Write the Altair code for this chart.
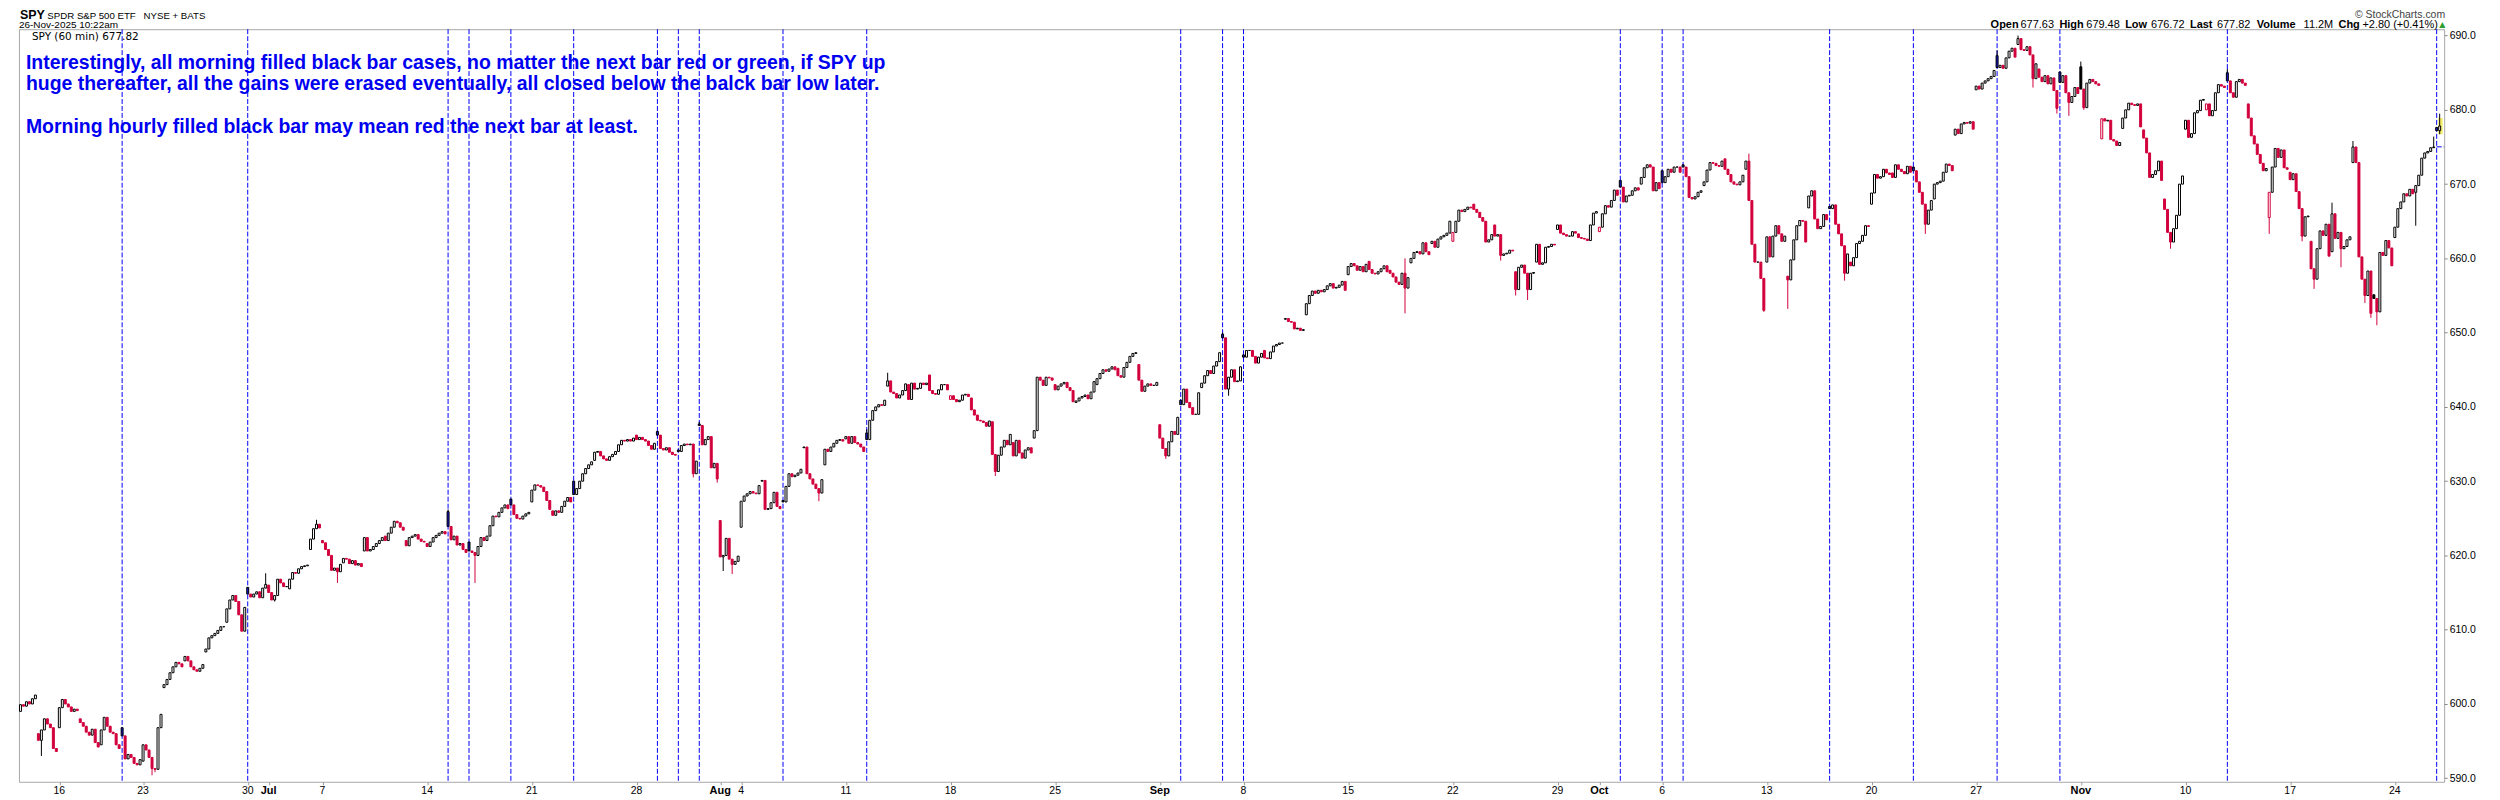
import altair as alt
import pandas as pd

# ---------------- data ----------------
DAYS = ["Jun 12", "Jun 13", "Jun 16", "Jun 17", "Jun 18", "Jun 20", "Jun 23", "Jun 24", "Jun 25", "Jun 26",
        "Jun 27", "Jun 30", "Jul 1", "Jul 2", "Jul 3", "Jul 7", "Jul 8", "Jul 9", "Jul 10", "Jul 11",
        "Jul 14", "Jul 15", "Jul 16", "Jul 17", "Jul 18", "Jul 21", "Jul 22", "Jul 23", "Jul 24", "Jul 25",
        "Jul 28", "Jul 29", "Jul 30", "Jul 31", "Aug 1", "Aug 4", "Aug 5", "Aug 6", "Aug 7", "Aug 8",
        "Aug 11", "Aug 12", "Aug 13", "Aug 14", "Aug 15", "Aug 18", "Aug 19", "Aug 20", "Aug 21", "Aug 22",
        "Aug 25", "Aug 26", "Aug 27", "Aug 28", "Aug 29", "Sep 2", "Sep 3", "Sep 4", "Sep 5", "Sep 8",
        "Sep 9", "Sep 10", "Sep 11", "Sep 12", "Sep 15", "Sep 16", "Sep 17", "Sep 18", "Sep 19", "Sep 22",
        "Sep 23", "Sep 24", "Sep 25", "Sep 26", "Sep 29", "Sep 30", "Oct 1", "Oct 2", "Oct 3", "Oct 6",
        "Oct 7", "Oct 8", "Oct 9", "Oct 10", "Oct 13", "Oct 14", "Oct 15", "Oct 16", "Oct 17", "Oct 20",
        "Oct 21", "Oct 22", "Oct 23", "Oct 24", "Oct 27", "Oct 28", "Oct 29", "Oct 30", "Oct 31", "Nov 3",
        "Nov 4", "Nov 5", "Nov 6", "Nov 7", "Nov 10", "Nov 11", "Nov 12", "Nov 13", "Nov 14", "Nov 17",
        "Nov 18", "Nov 19", "Nov 20", "Nov 21", "Nov 24", "Nov 25", "Nov 26"]

DAY_OPEN = [599.0, 596.0, 596.8, 598.0, 594.5, 596.8, 592.3, 602.2, 605.8, 607.0,
            611.0, 615.7, 616.0, 615.5, 620.8, 622.0, 619.0, 620.6, 622.6, 622.0,
            621.6, 625.9, 621.8, 622.6, 627.6, 627.2, 626.0, 630.0, 632.8, 633.6,
            636.2, 636.7, 634.2, 637.7, 624.7, 623.8, 630.0, 627.4, 634.5, 632.2,
            635.7, 636.5, 642.8, 643.0, 644.3, 641.0, 641.2, 638.0, 635.2, 635.8,
            643.0, 640.6, 643.0, 645.2, 645.7, 637.6, 640.9, 642.6, 649.8, 647.0,
            647.6, 651.8, 652.4, 655.8, 657.8, 659.6, 658.4, 659.4, 662.0, 662.3,
            667.3, 664.5, 658.2, 659.5, 663.9, 663.3, 663.6, 670.5, 670.0, 671.8,
            672.6, 669.8, 673.4, 672.0, 659.5, 657.6, 666.8, 667.0, 659.5, 667.3,
            671.5, 672.3, 668.0, 676.6, 682.7, 687.3, 688.8, 685.5, 685.1, 685.8,
            676.1, 677.5, 677.3, 668.0, 677.4, 680.0, 685.0, 680.8, 665.5, 671.6,
            662.3, 660.9, 672.9, 655.1, 662.8, 668.9, 677.63]

HOURLY_CLOSE = [
    [599.9, 599.7, 600.3, 600.0, 600.7, 601.2],
    [595.1, 596.5, 598.0, 597.3, 596.8, 594.0, 593.6],
    [599.5, 600.6, 600.0, 599.6, 599.0, 599.3, 599.1],
    [597.5, 597.0, 596.2, 595.8, 596.6, 594.8, 594.2],
    [596.5, 598.2, 597.0, 596.2, 596.0, 594.5, 594.0],
    [595.7, 592.6, 593.2, 592.8, 592.0, 591.8, 592.5],
    [594.5, 593.8, 592.8, 591.3, 591.2, 596.8, 598.6],
    [602.6, 603.3, 604.2, 605.0, 605.6, 605.4, 605.0],
    [606.4, 605.8, 605.0, 604.6, 604.4, 604.8, 605.3],
    [607.4, 608.9, 609.2, 609.5, 609.9, 610.4, 610.4],
    [612.8, 614.0, 614.6, 613.8, 612.0, 609.8, 613.0],
    [614.8, 614.4, 614.8, 615.1, 614.3, 615.6, 616.1],
    [615.0, 614.0, 614.6, 616.8, 616.3, 615.8, 615.8],
    [616.8, 617.7, 617.6, 618.2, 618.5, 618.6, 618.7],
    [622.2, 623.6, 624.2, 623.7],
    [621.7, 620.8, 620.0, 618.0, 618.3, 617.8, 618.8],
    [619.6, 619.5, 618.9, 619.3, 618.7, 618.9, 618.5],
    [622.4, 620.6, 620.8, 621.2, 621.6, 622.0, 622.4],
    [622.0, 623.0, 623.8, 624.6, 624.4, 623.8, 623.4],
    [621.3, 622.4, 622.6, 622.8, 622.2, 621.9, 621.8],
    [621.2, 621.8, 622.4, 622.7, 623.0, 623.2, 622.9],
    [623.9, 622.1, 622.6, 621.4, 621.6, 620.8, 620.4],
    [620.6, 620.4, 620.0, 621.2, 622.4, 622.0, 622.6],
    [624.0, 625.3, 625.2, 625.8, 626.4, 626.8, 626.3],
    [626.8, 625.5, 625.0, 624.9, 625.3, 625.6, 625.8],
    [628.8, 629.5, 629.4, 629.2, 628.6, 627.4, 626.2],
    [625.4, 626.0, 625.8, 626.6, 627.3, 627.8, 627.2],
    [628.2, 629.0, 630.0, 631.0, 631.7, 632.2, 632.6],
    [633.9, 634.0, 633.4, 633.0, 632.8, 633.3, 633.6],
    [634.0, 634.9, 635.5, 635.4, 635.6, 635.4, 635.8],
    [635.6, 635.9, 635.6, 635.4, 634.8, 634.3, 635.1],
    [636.2, 634.4, 634.2, 634.5, 633.9, 633.6, 633.5],
    [634.0, 634.8, 635.0, 634.9, 635.0, 631.0, 632.7],
    [637.5, 634.9, 635.6, 636.0, 631.8, 632.4, 630.3],
    [619.8, 620.0, 622.3, 619.5, 618.8, 619.2, 619.9],
    [627.3, 628.0, 628.3, 628.6, 628.4, 628.3, 629.4],
    [630.1, 626.2, 626.3, 627.1, 628.5, 626.6, 626.3],
    [627.2, 629.3, 631.0, 630.6, 630.8, 631.1, 631.6],
    [634.6, 631.0, 630.3, 629.6, 629.0, 628.4, 630.2],
    [634.3, 634.0, 634.6, 635.1, 635.5, 635.6, 635.4],
    [636.0, 635.1, 636.0, 635.2, 635.0, 634.6, 634.0],
    [635.6, 638.2, 639.5, 640.0, 640.3, 640.2, 640.9],
    [643.5, 642.0, 641.8, 641.2, 641.6, 642.2, 643.1],
    [641.0, 643.2, 642.4, 642.5, 643.2, 643.0, 643.2],
    [642.2, 641.8, 641.7, 642.3, 643.0, 643.0, 642.3],
    [641.5, 641.0, 640.7, 640.9, 641.6, 641.7, 641.4],
    [639.6, 638.9, 638.2, 638.1, 637.9, 637.4, 638.1],
    [633.6, 631.3, 633.5, 634.6, 635.5, 634.9, 636.3],
    [633.4, 635.5, 633.8, 633.1, 634.2, 634.5, 633.8],
    [636.8, 644.0, 643.6, 642.9, 644.0, 643.9, 643.6],
    [642.3, 642.8, 643.1, 643.3, 642.6, 642.2, 640.7],
    [640.8, 641.2, 641.4, 641.6, 641.1, 642.0, 643.4],
    [643.8, 644.5, 645.0, 644.8, 645.1, 645.4, 645.0],
    [644.2, 644.0, 645.3, 646.0, 646.8, 647.2, 647.3],
    [643.6, 642.1, 642.8, 643.1, 642.9, 642.9, 643.3],
    [635.8, 634.4, 633.4, 635.3, 636.7, 636.3, 638.6],
    [640.3, 642.4, 640.6, 639.9, 639.0, 639.0, 641.9],
    [643.2, 644.2, 644.9, 644.5, 645.5, 646.1, 647.3],
    [649.3, 642.4, 644.0, 645.0, 643.4, 643.5, 645.4],
    [646.7, 647.6, 647.6, 646.8, 645.9, 646.7, 647.2],
    [646.6, 646.5, 647.4, 648.2, 648.4, 648.6, 648.6],
    [651.9, 651.5, 651.4, 650.5, 650.6, 650.3, 650.4],
    [653.9, 655.0, 655.6, 655.3, 655.7, 655.5, 655.8],
    [656.3, 656.6, 656.0, 656.1, 656.4, 656.9, 655.7],
    [658.9, 659.3, 659.0, 658.4, 658.9, 658.2, 659.2],
    [658.5, 658.0, 657.9, 658.2, 658.6, 659.0, 658.2],
    [658.0, 657.5, 656.8, 656.5, 658.0, 656.0, 657.4],
    [660.0, 660.8, 660.9, 660.6, 662.1, 660.9, 660.5],
    [662.3, 661.5, 662.6, 662.9, 663.1, 663.4, 665.0],
    [663.5, 665.0, 666.5, 666.3, 666.6, 666.9, 666.8],
    [666.6, 666.2, 665.5, 665.0, 662.2, 662.5, 663.2],
    [663.0, 663.2, 660.4, 660.6, 660.7, 661.1, 661.0],
    [655.8, 658.8, 659.1, 658.0, 655.8, 658.0, 658.1],
    [661.9, 659.2, 659.4, 661.5, 661.6, 661.9, 661.8],
    [664.5, 663.4, 663.2, 663.0, 663.0, 663.6, 663.4],
    [662.8, 662.7, 662.6, 662.4, 664.5, 666.1, 666.3],
    [664.2, 666.0, 667.1, 666.9, 667.8, 669.2, 668.5],
    [669.6, 667.6, 668.4, 668.5, 669.1, 669.5, 669.2],
    [670.9, 672.2, 672.6, 672.3, 669.1, 670.2, 669.4],
    [670.2, 671.0, 672.0, 671.6, 672.3, 672.3, 671.6],
    [672.3, 671.0, 668.2, 668.0, 668.3, 668.9, 669.1],
    [670.3, 671.9, 672.9, 672.8, 672.5, 672.4, 673.1],
    [672.0, 671.3, 670.3, 670.0, 669.9, 670.3, 671.2],
    [673.1, 667.8, 661.9, 659.5, 659.5, 657.3, 653.0],
    [662.9, 660.2, 663.0, 664.4, 663.3, 662.3, 663.0],
    [657.1, 659.8, 662.5, 664.4, 665.1, 665.0, 662.2],
    [668.4, 669.1, 665.3, 664.0, 664.3, 665.9, 665.2],
    [666.7, 667.2, 664.6, 663.3, 661.7, 658.0, 660.6],
    [659.0, 660.1, 662.0, 662.3, 663.1, 664.4, 664.3],
    [668.8, 671.3, 670.8, 671.0, 672.0, 671.5, 671.3],
    [670.9, 672.6, 672.0, 671.7, 671.4, 672.4, 671.6],
    [671.8, 670.3, 668.9, 667.3, 664.6, 666.5, 667.8],
    [670.0, 670.2, 670.4, 671.6, 672.7, 672.5, 671.8],
    [677.4, 676.8, 678.1, 678.3, 678.2, 678.4, 677.4],
    [683.2, 682.8, 683.6, 683.9, 684.2, 684.5, 685.3],
    [685.7, 686.0, 685.6, 687.0, 687.9, 688.3, 687.1],
    [689.6, 688.1, 688.0, 688.5, 687.4, 684.2, 686.2],
    [684.4, 683.8, 684.6, 683.5, 684.3, 682.6, 680.2],
    [683.7, 684.6, 682.3, 681.0, 681.8, 683.0, 682.2],
    [682.8, 680.3, 683.6, 684.1, 683.8, 683.5, 683.3],
    [678.8, 678.5, 678.6, 676.0, 675.8, 675.2, 675.6],
    [678.9, 680.0, 680.9, 680.7, 680.6, 680.8, 677.7],
    [676.2, 674.2, 670.9, 671.3, 671.8, 673.1, 670.5],
    [666.6, 663.5, 662.2, 664.0, 665.8, 670.0, 671.1],
    [678.6, 676.3, 676.8, 679.6, 679.9, 681.3, 681.4],
    [680.8, 679.2, 679.9, 682.3, 683.4, 683.2, 683.0],
    [683.9, 682.3, 681.7, 683.8, 684.1, 683.6, 683.3],
    [678.9, 676.5, 675.4, 674.0, 672.8, 671.8, 672.1],
    [668.9, 672.3, 674.8, 673.6, 674.6, 672.2, 672.0],
    [670.6, 671.4, 669.0, 666.7, 663.0, 665.6, 665.7],
    [658.6, 657.2, 661.3, 663.7, 663.1, 664.6, 660.3],
    [666.0, 662.7, 663.5, 661.3, 661.6, 662.5, 662.9],
    [675.0, 672.9, 660.2, 657.2, 655.0, 658.3, 652.6],
    [654.6, 652.8, 660.8, 660.4, 662.4, 661.4, 659.0],
    [664.2, 666.7, 667.6, 668.7, 668.4, 669.3, 668.7],
    [669.8, 671.2, 673.5, 674.2, 674.4, 674.9, 675.0],
    [677.2, 677.82],
]

# days whose first (morning) bar is a filled black bar, marked with a blue dashed line
MARKED_DAYS = ["Jun 20", "Jun 30", "Jul 15", "Jul 16", "Jul 18", "Jul 23", "Jul 29", "Jul 30", "Jul 31",
               "Aug 6", "Aug 12", "Sep 3", "Sep 5", "Sep 8", "Oct 2", "Oct 6", "Oct 7", "Oct 16",
               "Oct 22", "Oct 28", "Oct 31", "Nov 12", "Nov 26"]

# long wicks (day, bar of the day, price)
WICK_HIGH = [("Jun 30", 6, 617.6), ("Jul 3", 2, 624.8), ("Jul 15", 0, 626.2), ("Jul 31", 0, 638.0),
             ("Aug 12", 0, 637.0), ("Aug 13", 0, 644.6), ("Sep 5", 0, 650.0), ("Sep 17", 5, 660.0),
             ("Oct 10", 1, 674.1), ("Oct 28", 0, 688.0), ("Oct 29", 0, 690.0), ("Nov 3", 0, 686.5),
             ("Nov 12", 0, 685.5), ("Nov 19", 0, 667.5), ("Nov 20", 0, 675.8), ("Nov 25", 6, 676.4),
             ("Nov 26", 1, 679.48)]
WICK_LOW = [("Jun 13", 1, 593.0), ("Jun 23", 3, 590.4), ("Jun 23", 4, 590.8), ("Jul 1", 2, 613.8),
            ("Jul 7", 5, 616.3), ("Jul 16", 2, 616.3), ("Jul 30", 5, 630.5), ("Jul 31", 6, 629.8),
            ("Aug 1", 1, 617.9), ("Aug 1", 4, 617.5), ("Aug 7", 5, 627.3), ("Aug 20", 1, 630.7),
            ("Sep 2", 2, 633.0), ("Sep 5", 2, 641.5), ("Sep 17", 5, 652.6), ("Sep 24", 2, 659.7),
            ("Sep 25", 0, 655.0), ("Sep 25", 4, 654.4), ("Oct 10", 6, 652.8), ("Oct 14", 0, 653.2),
            ("Oct 16", 5, 657.0), ("Oct 22", 4, 663.3), ("Oct 29", 5, 683.0), ("Oct 30", 6, 679.5),
            ("Oct 31", 3, 679.2), ("Nov 3", 1, 680.0), ("Nov 7", 2, 661.3), ("Nov 14", 0, 663.3),
            ("Nov 17", 4, 662.3), ("Nov 18", 1, 655.9), ("Nov 19", 3, 658.8), ("Nov 20", 4, 654.0),
            ("Nov 20", 6, 652.0), ("Nov 21", 1, 651.0), ("Nov 25", 0, 664.4), ("Nov 26", 1, 676.72)]

PREV_CLOSE_LEVEL = 675.02        # short dashed level at the right edge
LAST_BAR_RANGE = [676.72, 678.9]  # yellow highlight of the live bar

# x-axis labels (day on which the label sits, text)
WEEK_LABEL_DAYS = ["Jun 16", "Jun 23", "Jun 30", "Jul 7", "Jul 14", "Jul 21", "Jul 28", "Aug 4", "Aug 11",
                   "Aug 18", "Aug 25", "Sep 8", "Sep 15", "Sep 22", "Sep 29", "Oct 6", "Oct 13", "Oct 20",
                   "Oct 27", "Nov 10", "Nov 17", "Nov 24"]
WEEK_LABELS = ["16", "23", "30", "7", "14", "21", "28", "4", "11", "18", "25", "8", "15", "22", "29",
               "6", "13", "20", "27", "10", "17", "24"]
MONTH_LABEL_DAYS = ["Jul 1", "Aug 1", "Sep 2", "Oct 1", "Nov 3"]
MONTH_LABELS = ["Jul", "Aug", "Sep", "Oct", "Nov"]

Y_TICKS = [590.0 + 2.5 * i for i in range(41)]

TITLE_SYMBOL = "SPY"
TITLE_NAME = "SPDR S&P 500 ETF"
TITLE_EXCH = "NYSE + BATS"
TITLE_DATE = "26-Nov-2025 10:22am"
LEGEND = "SPY (60 min) 677.82"
QUOTE = [("Open", True), ("677.63", False), ("High", True), ("679.48", False), ("Low", True),
         ("676.72", False), ("Last", True), ("677.82", False), ("Volume", True), ("11.2M", False),
         ("Chg", True), ("+2.80 (+0.41%)", False)]
NOTE_LINES = [
    "Interestingly, all morning filled black bar cases, no matter the next bar red or green, if SPY up",
    "huge thereafter, all the gains were erased eventually, all closed below the balck bar low later.",
    "Morning hourly filled black bar may mean red the next bar at least.",
]

# ---------------- styling / layout ----------------
RED = "#d2003c"
BLACK = "#000000"
BLUE_FILL = "#1414d6"
LINE_BLUE = "#0000ff"
FONT = "Liberation Sans"

W, H = 2433, 755
XMIN = -13.5
XMAX = XMIN + W / 3.0
YMIN, YMAX = 589.52, 690.86
FIRST_BAR = -13
HALF = 0.33

xs = alt.Scale(domain=[XMIN, XMAX], nice=False, zero=False)
ys = alt.Scale(domain=[YMIN, YMAX], nice=False, zero=False)

# ---------------- build the hourly bars ----------------
hi_map = {(d, i): v for d, i, v in WICK_HIGH}
lo_map = {(d, i): v for d, i, v in WICK_LOW}
rows = []
day_start = {}
b = FIRST_BAR
prev = None
for day, dopen, closes in zip(DAYS, DAY_OPEN, HOURLY_CLOSE):
    day_start[day] = b
    op = dopen
    for i, c in enumerate(closes):
        ref = prev if prev is not None else op
        col = BLACK if c >= ref else RED
        filled = c < op
        marked = (i == 0 and day in MARKED_DAYS)
        if marked:
            fill, stroke = BLUE_FILL, BLACK
        else:
            fill, stroke = (col if filled else "#ffffff"), col
        lo = min(op, c, lo_map.get((day, i), 1e9))
        hi = max(op, c, hi_map.get((day, i), -1e9))
        rows.append(dict(b=b, bl=b - HALF, br=b + HALF, o=op, c=c, lo=lo, hi=hi,
                         fill=fill, stroke=stroke))
        prev = c
        op = c
        b += 1
bars = pd.DataFrame(rows)

marked_b = [day_start[d] for d in MARKED_DAYS]
last_b = bars["b"].max()
tick_b = sorted([day_start[d] for d in WEEK_LABEL_DAYS + MONTH_LABEL_DAYS])

x_axis = alt.Axis(values=tick_b, labels=False, ticks=True, tickSize=3, tickColor="#999999",
                  domain=False, grid=False, title=None)
y_axis = alt.Axis(orient="right", values=Y_TICKS, format=".1f", labelFont=FONT, labelFontSize=10.5,
                  labelColor="#000000", tickSize=3, tickColor="#888888", domain=False, grid=False,
                  title=None, labelPadding=2, labelFlush=False, labelOverlap=False)

vlines = alt.Chart(pd.DataFrame({"b": marked_b})).mark_rule(
    stroke=LINE_BLUE, strokeWidth=1, strokeDash=[5, 2]
).encode(x=alt.X("b:Q", scale=xs, axis=x_axis), y=alt.value(0), y2=alt.value(H))

hline = alt.Chart(pd.DataFrame({"b": [marked_b[-1]], "b2": [XMAX], "p": [PREV_CLOSE_LEVEL]})).mark_rule(
    stroke=LINE_BLUE, strokeWidth=1, strokeDash=[5, 2]
).encode(x=alt.X("b:Q", scale=xs, title=None), x2="b2:Q", y=alt.Y("p:Q", scale=ys, axis=y_axis))

yellow = alt.Chart(pd.DataFrame({"b1": [last_b - 0.45], "b2": [last_b + 1.0],
                                 "p1": [LAST_BAR_RANGE[0]], "p2": [LAST_BAR_RANGE[1]]})).mark_rect(
    color="#f4ee6a"
).encode(x=alt.X("b1:Q", scale=xs, title=None), x2="b2:Q", y=alt.Y("p1:Q", scale=ys, title=None), y2="p2:Q")

wicks = alt.Chart(bars).mark_rule(strokeWidth=1).encode(
    x=alt.X("b:Q", scale=xs, title=None),
    y=alt.Y("lo:Q", scale=ys, title=None), y2="hi:Q",
    stroke=alt.Stroke("stroke:N", scale=None))

bodies = alt.Chart(bars).mark_rect(strokeWidth=1).encode(
    x=alt.X("bl:Q", scale=xs, title=None), x2="br:Q",
    y=alt.Y("o:Q", scale=ys, title=None), y2="c:Q",
    fill=alt.Fill("fill:N", scale=None),
    stroke=alt.Stroke("stroke:N", scale=None))

week_lab = alt.Chart(pd.DataFrame({"b": [day_start[d] for d in WEEK_LABEL_DAYS], "t": WEEK_LABELS})).mark_text(
    font=FONT, fontSize=10.5, align="center", baseline="alphabetic", color="#000000"
).encode(x=alt.X("b:Q", scale=xs, title=None), y=alt.value(H + 12), text="t:N")

month_lab = alt.Chart(pd.DataFrame({"b": [day_start[d] for d in MONTH_LABEL_DAYS], "t": MONTH_LABELS})).mark_text(
    font=FONT, fontSize=11, fontWeight="bold", align="center", baseline="alphabetic", color="#000000"
).encode(x=alt.X("b:Q", scale=xs, title=None), y=alt.value(H + 12), text="t:N")


def txt(t, px, py, size, weight="normal", color="#000000", font=FONT, align="left"):
    return alt.Chart(pd.DataFrame({"t": [t]})).mark_text(
        font=font, fontSize=size, fontWeight=weight, color=color, align=align, baseline="alphabetic"
    ).encode(x=alt.value(px), y=alt.value(py), text="t:N")


texts = [
    txt(TITLE_SYMBOL, 1, -10.5, 12.5, "bold"),
    txt(TITLE_NAME, 28.5, -10.5, 9.7),
    txt(TITLE_EXCH, 125, -10.5, 9.7),
    txt(TITLE_DATE, 0, -1.2, 10),
    txt("\u00a9 StockCharts.com", 2434, -11, 10.5, color="#444444", align="right"),
    txt(LEGEND, 13, 10.5, 10.5, font="DejaVu Sans"),
    txt("\u25B2", 2428, -2.5, 8, color="#2e9e2e", font="DejaVu Sans"),
]
QUOTE_X = [1978, 2008, 2047, 2074, 2113, 2139, 2178, 2205, 2245, 2292, 2327, 2351]
for (t, bold), qx in zip(QUOTE, QUOTE_X):
    texts.append(txt(t, qx, -1.2, 11, "bold" if bold else "normal"))
NOTE_Y = [39.5, 61, 104]
for line, ny in zip(NOTE_LINES, NOTE_Y):
    texts.append(txt(line, 7, ny, 19.5, "bold", color="#0000f0"))

chart = alt.layer(vlines, hline, yellow, wicks, bodies, week_lab, month_lab, *texts).properties(
    width=W, height=H,
    padding={"left": 11, "top": 20, "right": 48, "bottom": 16},
    autosize=alt.AutoSizeParams(type="none"),
    background="#ffffff",
).configure_view(stroke="#a8a8a8", strokeWidth=1)

chart.save("out.html", embed_options={"renderer": "svg", "actions": False})
